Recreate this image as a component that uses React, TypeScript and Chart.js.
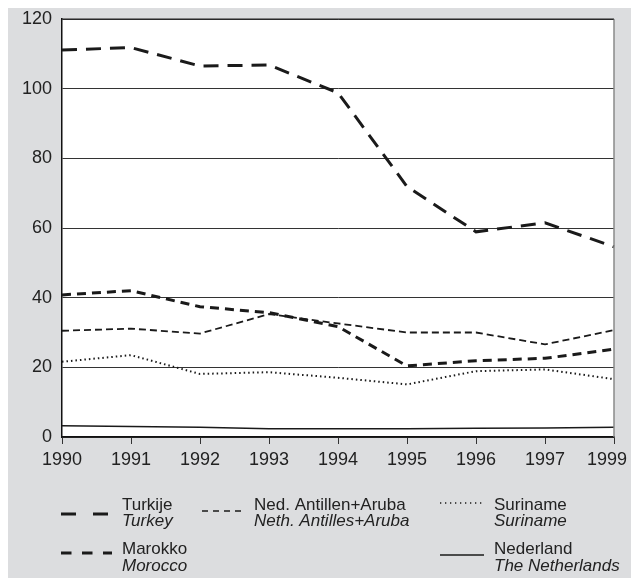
import React, { useEffect, useRef } from 'react';
import { Chart, registerables } from 'chart.js';

Chart.register(...registerables);

const years = ['1990', '1991', '1992', '1993', '1994', '1995', '1996', '1997', '1999'];
const turkey = [111.1, 111.8, 106.5, 106.8, 98.8, 71.9, 58.9, 61.5, 54.6];
const morocco = [40.8, 42.0, 37.4, 35.7, 31.7, 20.4, 21.9, 22.6, 25.2];
const nethAntilles = [30.5, 31.1, 29.7, 35.3, 32.6, 30.0, 30.0, 26.6, 30.7];
const suriname = [21.6, 23.5, 18.1, 18.6, 17.0, 15.1, 18.9, 19.4, 16.6];
const nederland = [3.2, 3.0, 2.8, 2.4, 2.4, 2.4, 2.5, 2.6, 2.8];
const yMin = 0;
const yMax = 120;
const yStep = 20;

const namesNl = ['Turkije', 'Marokko', 'Ned. Antillen+Aruba', 'Suriname', 'Nederland'];
const namesEn = ['Turkey', 'Morocco', 'Neth. Antilles+Aruba', 'Suriname', 'The Netherlands'];

const W = 623;
const H = 570;
const FONT = '"Liberation Sans", Arial, Helvetica, sans-serif';
const TICK_SIZE = 18;
const TICK_LEN = 7;
const TICK_PAD = 5;
const INK = '#1a1a1a';
const TEXT = '#222';
const BG = '#dcdddf';

type LegendSpec = { x0: number; x1: number; ly: number; tx: number; b1: number; b2: number; width: number; dash: number[] };

const legendLayout: LegendSpec[] = [
  { x0: 53, x1: 101, ly: 506, tx: 114, b1: 502, b2: 518, width: 3, dash: [15, 17] },
  { x0: 53, x1: 104, ly: 545, tx: 114, b1: 546, b2: 563, width: 3, dash: [10.5, 10.5] },
  { x0: 194, x1: 237, ly: 503, tx: 246, b1: 502, b2: 518, width: 1.6, dash: [6, 5] },
  { x0: 432, x1: 474, ly: 495, tx: 486, b1: 502, b2: 518, width: 1.6, dash: [1.3, 3.7] },
  { x0: 432, x1: 476, ly: 547, tx: 486, b1: 546, b2: 563, width: 1.5, dash: [] },
];

const decorPlugin = {
  id: 'decor',
  beforeDraw(chart: any) {
    const { ctx, chartArea } = chart;
    ctx.save();
    ctx.fillStyle = BG;
    ctx.fillRect(0, 0, chart.width, chart.height);
    ctx.fillStyle = '#ffffff';
    ctx.fillRect(chartArea.left, chartArea.top, chartArea.right - chartArea.left, chartArea.bottom - chartArea.top);
    ctx.restore();
  },
  afterDraw(chart: any) {
    const { ctx, chartArea } = chart;
    ctx.save();
    ctx.strokeStyle = '#8a8a8a';
    ctx.lineWidth = 1.5;
    ctx.beginPath();
    ctx.moveTo(chartArea.right, chartArea.top);
    ctx.lineTo(chartArea.right, chartArea.bottom);
    ctx.stroke();
    ctx.strokeStyle = '#222';
    ctx.lineWidth = 1.2;
    ctx.beginPath();
    ctx.moveTo(chartArea.left, chartArea.top);
    ctx.lineTo(chartArea.right, chartArea.top);
    ctx.stroke();

    // last x label, kept inside the canvas (the reference pulls it in from the edge)
    const xs = chart.scales.x;
    const last = years.length - 1;
    ctx.font = `${TICK_SIZE}px ${FONT}`;
    const lw = ctx.measureText(years[last]).width;
    const px = xs.getPixelForTick(last);
    const cx = Math.min(px, chart.width - 4 - lw / 2);
    ctx.fillStyle = TEXT;
    ctx.textAlign = 'center';
    ctx.textBaseline = 'middle';
    ctx.fillText(years[last], cx, xs.top + TICK_LEN + TICK_PAD + (TICK_SIZE * 1.2) / 2);

    legendLayout.forEach((s, i) => {
      ctx.strokeStyle = INK;
      ctx.lineWidth = s.width;
      ctx.setLineDash(s.dash);
      ctx.lineCap = 'butt';
      ctx.beginPath();
      ctx.moveTo(s.x0, s.ly);
      ctx.lineTo(s.x1, s.ly);
      ctx.stroke();
      ctx.setLineDash([]);
      ctx.fillStyle = TEXT;
      ctx.textAlign = 'left';
      ctx.textBaseline = 'alphabetic';
      ctx.font = `17px ${FONT}`;
      ctx.fillText(namesNl[i], s.tx, s.b1);
      ctx.font = `italic 17px ${FONT}`;
      ctx.fillText(namesEn[i], s.tx, s.b2);
    });
    ctx.restore();
  },
};

export default function App() {
  const ref = useRef<HTMLCanvasElement | null>(null);

  useEffect(() => {
    document.documentElement.style.overflow = 'hidden';
    document.body.style.margin = '0';
    const canvas = ref.current;
    if (!canvas) return;
    const line = (label: string, data: number[], width: number, dash: number[]) => ({
      label,
      data,
      borderColor: INK,
      backgroundColor: INK,
      borderWidth: width,
      borderDash: dash,
      pointRadius: 0,
      pointHoverRadius: 0,
      tension: 0,
      fill: false,
    });
    const chart = new Chart(canvas, {
      type: 'line',
      data: {
        labels: years,
        datasets: [
          line(namesEn[4], nederland, 1.5, []),
          line(namesEn[3], suriname, 2, [1.5, 3]),
          line(namesEn[2], nethAntilles, 1.8, [7, 4]),
          line(namesEn[1], morocco, 3, [9, 6]),
          line(namesEn[0], turkey, 3, [15, 9]),
        ],
      },
      options: {
        responsive: false,
        animation: false,
        events: [],
        layout: { padding: { top: 11, right: 17, bottom: 101, left: 0 } },
        plugins: { legend: { display: false }, tooltip: { enabled: false } },
        scales: {
          x: {
            type: 'category',
            offset: false,
            grid: { display: true, drawOnChartArea: false, drawTicks: true, tickLength: TICK_LEN, color: '#333', lineWidth: 1 },
            border: { display: true, color: '#111', width: 1.5 },
            ticks: {
              color: TEXT,
              font: { family: FONT, size: TICK_SIZE },
              padding: TICK_PAD,
              maxRotation: 0,
              autoSkip: false,
              callback: (_v: any, i: number) => (i === years.length - 1 ? '' : years[i]),
            },
            afterFit: (scale: any) => {
              scale.height = 40;
              scale.paddingLeft = 0;
              scale.paddingRight = 0;
            },
          },
          y: {
            min: yMin,
            max: yMax,
            grid: { drawTicks: false, color: '#333', lineWidth: 1 },
            border: { display: true, color: '#111', width: 1.5 },
            ticks: {
              stepSize: yStep,
              color: TEXT,
              font: { family: FONT, size: TICK_SIZE },
              padding: 10,
            },
            afterFit: (scale: any) => {
              scale.width = 54;
              scale.paddingTop = 0;
              scale.paddingBottom = 0;
            },
          },
        },
      },
      plugins: [decorPlugin],
    });
    return () => chart.destroy();
  }, []);

  return (
    <div style={{ width: W, height: H, padding: '8px 0 0 8px', background: '#ffffff' }}>
      <canvas ref={ref} width={W} height={H} style={{ display: 'block', width: W, height: H }} />
    </div>
  );
}
